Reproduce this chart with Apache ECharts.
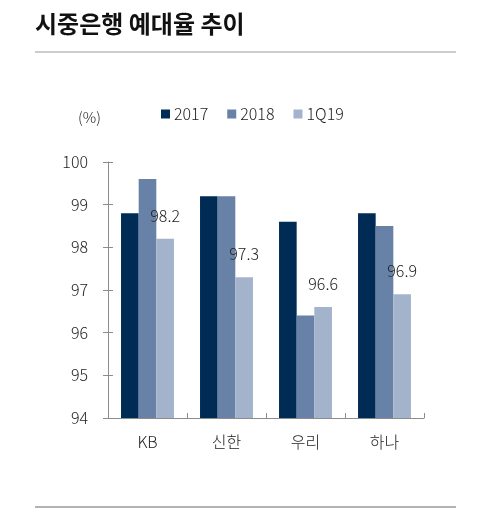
<!DOCTYPE html>
<html>
<head>
<meta charset="utf-8">
<script src="https://cdn.jsdelivr.net/npm/echarts@6/dist/echarts.min.js"></script>
<style>
    html, body {margin: 0; padding: 0; background: #fff;}
    #chartWrap {width: 477px; height: 511px;}
</style>
</head>
<body>
<div id="chartWrap"></div>
<script>
// 데이터
const banks = ['KB', '신한', '우리', '하나'];
const y2017 = [98.8, 99.2, 98.6, 98.8];
const y2018 = [99.6, 99.2, 96.4, 98.5];
const q1y19 = [98.2, 97.3, 96.6, 96.9];
const seriesNames = ['2017', '2018', '1Q19'];
const yTicks = [94, 95, 96, 97, 98, 99, 100];

const font = '"Noto Sans CJK KR", "Noto Sans", sans-serif';
const colors = ['#002b55', '#6782a6', '#a3b3cc'];
const axisColor = '#8c8c8c';

let myChart = echarts.init(document.getElementById('chartWrap'));

myChart.setOption({
    animation: false,
    color: colors,
    textStyle: {fontFamily: font},
    graphic: [
        {
            type: 'text', left: 35, top: 12,
            style: {text: '시중은행 예대율 추이', font: 'bold 24px ' + font, fill: '#111'}
        },
        {
            type: 'line', shape: {x1: 35, y1: 52, x2: 456, y2: 52},
            style: {stroke: '#9a9a9a', lineWidth: 1}
        },
        {
            type: 'line', shape: {x1: 35, y1: 507, x2: 456, y2: 507},
            style: {stroke: '#9a9a9a', lineWidth: 1.5}
        },
        {
            type: 'text', left: 78, top: 110,
            style: {text: '(%)', font: '300 15px ' + font, fill: '#222'}
        }
    ],
    legend: {
        left: 156,
        top: 101,
        itemWidth: 9,
        itemHeight: 9,
        itemGap: 19,
        icon: 'rect',
        data: seriesNames,
        textStyle: {fontSize: 16, color: '#222', fontWeight: 300, padding: [0, 0, 0, -1]}
    },
    grid: {left: 108, right: 53, top: 162, bottom: 93, containLabel: false},
    xAxis: {
        type: 'category',
        data: banks,
        axisLine: {lineStyle: {color: axisColor}},
        axisTick: {show: true, inside: true, length: 5, lineStyle: {color: axisColor}},
        axisLabel: {fontSize: 16, color: '#222', fontWeight: 300, margin: 16}
    },
    yAxis: [
        {
            type: 'value',
            min: yTicks[0],
            max: yTicks[yTicks.length - 1],
            interval: 1,
            splitLine: {show: false},
            axisLine: {show: true, lineStyle: {color: axisColor}},
            axisTick: {show: true, length: 5, lineStyle: {color: axisColor}},
            axisLabel: {fontSize: 16, color: '#222', fontWeight: 300, margin: 20}
        },
        {
            // 안쪽 눈금 (축을 가로지르는 눈금 표현)
            type: 'value',
            position: 'left',
            min: yTicks[0],
            max: yTicks[yTicks.length - 1],
            interval: 1,
            splitLine: {show: false},
            axisLine: {show: false},
            axisTick: {show: true, inside: true, length: 5, lineStyle: {color: axisColor}},
            axisLabel: {show: false}
        }
    ],
    series: [
        {
            name: seriesNames[0], type: 'bar', data: y2017,
            barGap: '0%', barCategoryGap: '33%'
        },
        {
            name: seriesNames[1], type: 'bar', data: y2018,
            barGap: '0%', barCategoryGap: '33%'
        },
        {
            name: seriesNames[2], type: 'bar', data: q1y19,
            barGap: '0%', barCategoryGap: '33%',
            label: {
                show: true, position: 'top', distance: 15,
                fontSize: 16, color: '#222', fontWeight: 300,
                formatter: function (p) {
                    return p.value.toFixed(1);
                }
            }
        }
    ]
});
</script>
</body>
</html>
